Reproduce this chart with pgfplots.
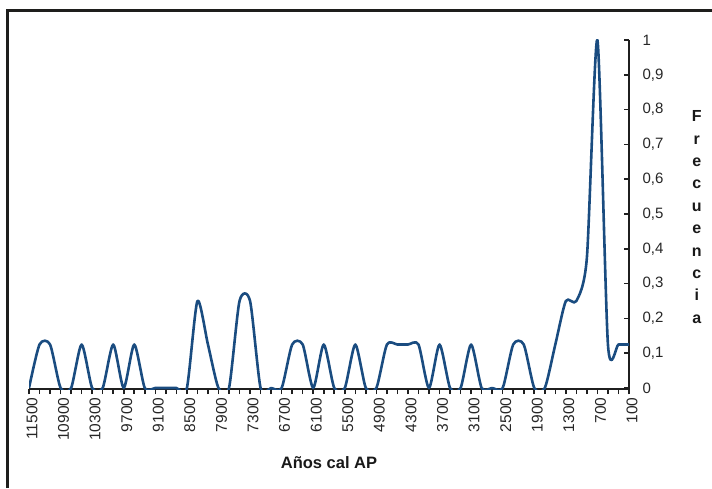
\documentclass[border=0pt]{standalone}
\usepackage{pgfplots}
\pgfplotsset{compat=1.18}
\usepackage{pgfplotstable}
\usepackage{fontspec}
\setmainfont{Liberation Sans}

\definecolor{serie}{RGB}{26,76,128}
\definecolor{marco}{RGB}{30,30,28}

% frecuencia normalizada por intervalo de 200 anos
\pgfplotstableread{
anio f
11500 0
11300 0.125
11100 0.125
10900 0
10700 0
10500 0.125
10300 0
10100 0
9900 0.125
9700 0
9500 0.125
9300 0
9100 0
8900 0
8700 0
8500 0
8300 0.25
8100 0.125
7900 0
7700 0
7500 0.25
7300 0.25
7100 0
6900 0
6700 0
6500 0.125
6300 0.125
6100 0
5900 0.125
5700 0
5500 0
5300 0.125
5100 0
4900 0
4700 0.125
4500 0.125
4300 0.125
4100 0.125
3900 0
3700 0.125
3500 0
3300 0
3100 0.125
2900 0
2700 0
2500 0
2300 0.125
2100 0.125
1900 0
1700 0
1500 0.125
1300 0.25
1100 0.25
900 0.375
700 1
500 0.125
300 0.125
100 0.125
}\frecuencia

\begin{document}
\begin{tikzpicture}[x=1pt,y=1pt]
\path[use as bounding box] (0,0) rectangle (712,488);
\draw[line width=3pt, marco] (7.5,0) -- (7.5,477.5) -- (712,477.5);
\begin{axis}[
    at={(29pt,98.8pt)}, anchor=south west,
    scale only axis, width=600pt, height=349.2pt,
    xmin=0, xmax=57, ymin=-0.00345, ymax=1,
    axis x line*=bottom, axis y line*=right,
    axis line style={-, line width=2pt, black!88},
    tick align=outside,
    major tick length=5pt, minor tick length=5pt,
    every tick/.style={black!88, line width=1.6pt},
    y tick style={xshift=-5pt},
    xtick={0,3,...,57},
    minor xtick={0,...,57},
    xticklabels={11500,10900,10300,9700,9100,8500,7900,7300,6700,6100,5500,4900,4300,3700,3100,2500,1900,1300,700,100},
    xticklabel style={rotate=90, anchor=east, font=\fontsize{15.5}{17}\selectfont, yshift=-3pt, black!85},
    ytick={0,0.1,0.2,0.3,0.4,0.5,0.6,0.7,0.8,0.9,1},
    yticklabels={0,{0,1},{0,2},{0,3},{0,4},{0,5},{0,6},{0,7},{0,8},{0,9},1},
    yticklabel style={font=\fontsize{15}{17}\selectfont, xshift=5pt, black!85},
    xlabel={Años cal AP},
    xlabel style={at={(axis description cs:0.5,0)}, anchor=center, yshift=-73pt, font=\fontsize{16.5}{18}\selectfont\bfseries, black!90},
    ylabel={\fontsize{16}{22.4}\selectfont\bfseries\begin{tabular}{@{}c@{}}F\\r\\e\\c\\u\\e\\n\\c\\i\\a\end{tabular}},
    ylabel style={at={(axis description cs:1.113,0.49)}, rotate=-90, anchor=center, black!90},
]
\addplot[serie, line width=2.6pt, line join=round, smooth, tension=0.42] table[x expr=\coordindex, y=f] {\frecuencia};
\end{axis}
\end{tikzpicture}
\end{document}
